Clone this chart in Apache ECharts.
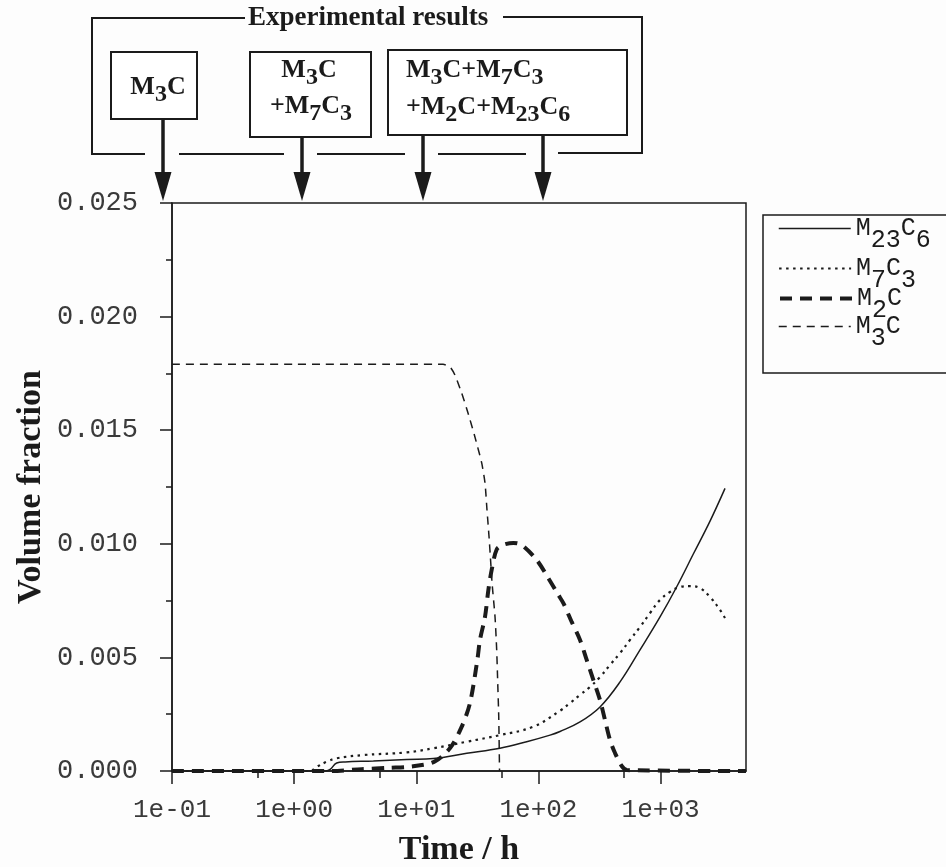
<!DOCTYPE html>
<html>
<head>
<meta charset="utf-8">
<title>Volume fraction vs time</title>
<script src="https://cdn.jsdelivr.net/npm/echarts@6.0.0/dist/echarts.min.js"></script>
<style>
  html, body { margin: 0; padding: 0; background: #fdfdfd; }
  #myChart { width: 946px; height: 867px; }
</style>
</head>
<body>
<div id="myChart"></div>
<script>
// values, time in hours
var seriesNames = ["M23C6", "M7C3", "M2C", "M3C"];

var timeM23C6 = [0.1, 1.82, 1.97, 2.23, 2.61, 4.45, 8.35, 13.8, 25.9, 48.4, 80.1, 124.4, 150.1, 218.9, 319.1, 465.3, 678.3, 988.8, 1355, 1852, 2538, 3367];
var fracM23C6 = [0, 0, 0.00007, 0.00035, 0.00040, 0.00044, 0.00051, 0.00055, 0.00078, 0.00100, 0.00129, 0.00158, 0.00174, 0.00216, 0.00282, 0.00392, 0.00533, 0.00678, 0.00811, 0.00955, 0.01100, 0.01244];

var timeM7C3 = [0.1, 1.35, 1.53, 1.85, 2.23, 3.66, 8.35, 13.8, 25.9, 48.4, 90.7, 150.1, 181.3, 218.9, 264.3, 319.1, 385.3, 465.3, 561.7, 678.3, 818.8, 988.8, 1194, 1442, 1741, 2102, 2538, 3064, 3367];
var fracM7C3 = [0, 0, 0.00018, 0.00041, 0.00056, 0.00070, 0.00082, 0.00100, 0.00129, 0.00158, 0.00195, 0.00265, 0.00299, 0.00335, 0.00370, 0.00414, 0.00467, 0.00519, 0.00577, 0.00634, 0.00695, 0.00753, 0.00788, 0.00810, 0.00814, 0.00805, 0.00766, 0.00709, 0.00673];

var timeM2C = [0.1, 2.0, 3.57, 5.98, 9.22, 13.96, 18.9, 23.5, 27.5, 31.6, 33.2, 36.5, 38.9, 41.4, 45.5, 51.3, 62.3, 72.9, 96.8, 120.4, 145.4, 159.8, 187.2, 218.9, 248.3, 281.3, 319.1, 350.6, 385.3, 423.4, 480.3, 530.9, 5000];
var fracM2C = [0, 0, 0.00008, 0.00014, 0.00020, 0.00040, 0.00101, 0.00194, 0.00299, 0.00489, 0.00577, 0.00678, 0.00797, 0.00885, 0.00975, 0.00995, 0.01004, 0.00995, 0.00929, 0.00849, 0.00775, 0.00739, 0.00656, 0.00577, 0.00489, 0.00401, 0.00312, 0.00224, 0.00136, 0.00079, 0.00022, 0.00004, 0];

var timeM3C = [0.1, 1, 10, 16.55, 18.9, 20.7, 23.5, 26.5, 30.2, 34.3, 36.5, 37.9, 39.4, 40.7, 41.7, 44.1, 45.5, 46.4, 47.3, 48.0];
var fracM3C = [0.0179, 0.0179, 0.0179, 0.0179, 0.01778, 0.01743, 0.01664, 0.01576, 0.01470, 0.01356, 0.01268, 0.01149, 0.01030, 0.00915, 0.00827, 0.00678, 0.00533, 0.00387, 0.00238, 0];

var majorTicks = [0.1, 1, 10, 100, 1000];
var minorTicks = [0.5, 5, 50, 500];
var timeRange = [0.1, 5000];
var fracRange = [0, 0.025];

var ink = "#1b1b1b";
var serif = "'Liberation Serif', 'Times New Roman', serif";
var mono = "'Liberation Mono', 'Courier New', monospace";

// "M23C6" -> rich text with the digits as subscripts
function subRich(name) {
  return name.replace(/(\d+)|([^\d]+)/g, function (m, d) {
    return d ? "{s|" + m + "}" : "{n|" + m + "}";
  });
}

function expLabel(v) {
  var e = Math.round(v);
  var a = Math.abs(e);
  return "1e" + (e < 0 ? "-" : "+") + (a < 10 ? "0" + a : a);
}

function toXY(times, fracs) {
  return times.map(function (t, i) {
    return [Math.log10(t), fracs[i]];
  });
}

var headRich = {
  n: { font: "bold 26px " + serif, lineHeight: 30, fill: ink },
  s: { font: "bold 24px " + serif, lineHeight: 30, padding: [16, 0, 0, 0], fill: ink }
};

function headText(x, y, str, align) {
  return {
    type: "text", x: x, y: y, z: 10,
    style: { text: subRich(str), rich: headRich, align: align, verticalAlign: "middle", fill: ink }
  };
}

function arrow(x, yTop) {
  return [
    { type: "line", z: 10, shape: { x1: x, y1: yTop, x2: x, y2: 174 }, style: { stroke: ink, lineWidth: 3.5 } },
    { type: "polygon", z: 10, shape: { points: [[x - 8.5, 172], [x + 8.5, 172], [x, 201]] }, style: { fill: ink } }
  ];
}

function seg(x1, y1, x2, y2) {
  return { type: "line", z: 10, shape: { x1: x1, y1: y1, x2: x2, y2: y2 }, style: { stroke: ink, lineWidth: 2 } };
}

var header = [
  { type: "polyline", z: 10, shape: { points: [[245, 18], [92, 18], [92, 154], [145, 154]] }, style: { stroke: ink, lineWidth: 2, fill: null } },
  { type: "polyline", z: 10, shape: { points: [[503, 17], [642, 17], [642, 153], [558, 153]] }, style: { stroke: ink, lineWidth: 2, fill: null } },
  seg(179, 154, 284, 154),
  seg(317, 154, 405, 154),
  seg(438, 154, 526, 154),
  {
    type: "text", x: 248, y: 18, z: 10,
    style: { text: "Experimental results", font: "bold 27px " + serif, fill: ink, align: "left", verticalAlign: "middle" }
  },
  { type: "rect", z: 10, shape: { x: 111, y: 52, width: 86, height: 67 }, style: { fill: "#fff", stroke: ink, lineWidth: 2 } },
  { type: "rect", z: 10, shape: { x: 250, y: 52, width: 121, height: 85 }, style: { fill: "#fff", stroke: ink, lineWidth: 2 } },
  { type: "rect", z: 10, shape: { x: 388, y: 50, width: 239, height: 85 }, style: { fill: "#fff", stroke: ink, lineWidth: 2 } },
  headText(158, 87, "M3C", "center"),
  headText(309, 70, "M3C", "center"),
  headText(311, 106, "+M7C3", "center"),
  headText(406, 70, "M3C+M7C3", "left"),
  headText(406, 107, "+M2C+M23C6", "left"),
  // legend frame
  { type: "rect", z: 10, shape: { x: 763, y: 215, width: 200, height: 158 }, style: { fill: null, stroke: ink, lineWidth: 1.5 } }
]
  .concat(arrow(163, 119))
  .concat(arrow(302, 137))
  .concat(arrow(423, 135))
  .concat(arrow(543, 135));

var legendRich = {
  n: { fontFamily: mono, fontSize: 25, lineHeight: 28, color: ink },
  s: { fontFamily: mono, fontSize: 25, lineHeight: 28, padding: [24, 0, 0, 0], color: ink }
};
var legendRowY = [228, 268, 298, 326];

var lineStyles = {
  M23C6: { color: ink, width: 1.5, type: "solid" },
  M7C3: { color: ink, width: 2.2, type: [2.5, 4.5] },
  M2C: { color: ink, width: 4, type: [12, 8] },
  M3C: { color: ink, width: 1.5, type: [8, 6] }
};
var smoothness = { M23C6: 0.4, M7C3: 0.4, M2C: 0.3, M3C: 0.2 };
var seriesData = {
  M23C6: toXY(timeM23C6, fracM23C6),
  M7C3: toXY(timeM7C3, fracM7C3),
  M2C: toXY(timeM2C, fracM2C),
  M3C: toXY(timeM3C, fracM3C)
};

var myChart = echarts.init(document.getElementById("myChart"));

var option = {
  animation: false,
  backgroundColor: "#fdfdfd",
  grid: {
    left: 172, right: 200, top: 203, bottom: 96,
    show: true, borderColor: ink, borderWidth: 1.5,
    containLabel: false, outerBoundsMode: "none"
  },
  legend: seriesNames.map(function (name, i) {
    return {
      data: [name],
      orient: "vertical",
      left: 778,
      top: legendRowY[i] - 24,
      padding: 0,
      itemWidth: 72,
      itemHeight: 14,
      itemGap: 0,
      selectedMode: false,
      itemStyle: { opacity: 0 },
      lineStyle: { width: "inherit" },
      formatter: function (n) { return subRich(n); },
      textStyle: { fontFamily: mono, fontSize: 25, color: ink, rich: legendRich }
    };
  }),
  xAxis: [
    {
      type: "value",
      min: Math.log10(timeRange[0]),
      max: Math.log10(timeRange[1]),
      name: "Time / h",
      nameLocation: "middle",
      nameGap: 62,
      nameMoveOverlap: false,
      nameTextStyle: { fontFamily: serif, fontWeight: "bold", fontSize: 34, color: ink },
      axisLine: { show: true, onZero: false, lineStyle: { color: ink, width: 1.5 } },
      axisTick: { show: true, inside: false, length: 13, customValues: majorTicks.map(Math.log10), lineStyle: { color: ink, width: 1.5 } },
      axisLabel: { customValues: majorTicks.map(Math.log10), formatter: expLabel, margin: 26, fontFamily: mono, fontSize: 26, color: "#3a3a3a" },
      splitLine: { show: false }
    },
    {
      type: "value",
      position: "bottom",
      min: Math.log10(timeRange[0]),
      max: Math.log10(timeRange[1]),
      axisLine: { show: false },
      axisTick: { show: true, inside: false, length: 7, customValues: minorTicks.map(Math.log10), lineStyle: { color: ink, width: 1.5 } },
      axisLabel: { show: false },
      splitLine: { show: false }
    }
  ],
  yAxis: {
    type: "value",
    min: fracRange[0],
    max: fracRange[1],
    interval: 0.005,
    name: "Volume fraction",
    nameLocation: "middle",
    nameGap: 124,
    nameMoveOverlap: false,
    nameTextStyle: { fontFamily: serif, fontWeight: "bold", fontSize: 34, color: ink },
    axisLine: { show: true, onZero: false, lineStyle: { color: ink, width: 1.5 } },
    axisTick: { show: true, inside: false, length: 12, lineStyle: { color: ink, width: 1.5 } },
    minorTick: { show: true, splitNumber: 2, length: 6, lineStyle: { color: ink, width: 1.5 } },
    axisLabel: {
      margin: 34, fontFamily: mono, fontSize: 27, color: "#3a3a3a",
      formatter: function (v) { return v.toFixed(3); }
    },
    splitLine: { show: false },
    minorSplitLine: { show: false }
  },
  graphic: header,
  series: seriesNames.map(function (name) {
    return {
      name: name,
      type: "line",
      xAxisIndex: 0,
      data: seriesData[name],
      symbol: "none",
      smooth: smoothness[name],
      lineStyle: lineStyles[name],
      itemStyle: { color: ink },
      emphasis: { disabled: true }
    };
  })
};

myChart.setOption(option);
</script>
</body>
</html>
